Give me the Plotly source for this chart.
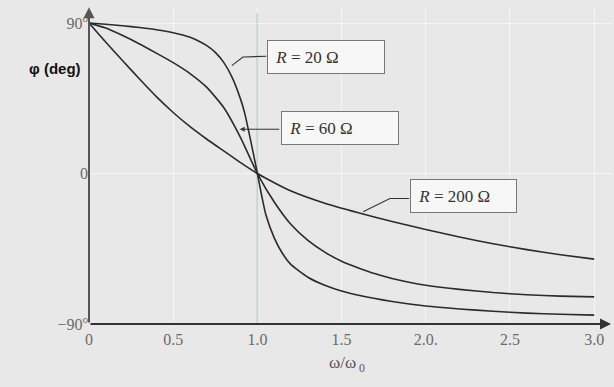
import plotly.graph_objects as go

# ---- data ----
x_r20 = [0, 0.1, 0.2, 0.3, 0.4, 0.5, 0.6, 0.65, 0.7, 0.75, 0.8, 0.85, 0.9, 0.925, 0.95, 0.975, 1.0,
         1.025, 1.05, 1.1, 1.15, 1.2, 1.3, 1.4, 1.5, 1.6, 1.8, 2.0, 2.2, 2.4, 2.6, 2.8, 3.0]
phi_r20 = [90, 89.3, 88.4, 87.3, 86.0, 84.2, 81.5, 79.3, 76.5, 72.5, 66.5, 57.5, 44.5, 36.0, 24.5, 12.5, 0,
           -13.0, -24.5, -38.5, -48.0, -54.5, -62.0, -66.8, -70.2, -72.8, -76.5, -79.2, -81.0, -82.4, -83.5, -84.2, -84.7]

x_r60 = [0, 0.1, 0.2, 0.3, 0.4, 0.5, 0.6, 0.7, 0.8, 0.9, 1.0,
         1.1, 1.2, 1.3, 1.4, 1.5, 1.6, 1.7, 1.8, 1.9, 2.0, 2.2, 2.4, 2.6, 2.8, 3.0]
phi_r60 = [90, 87.0, 82.5, 77.5, 72.0, 66.3, 59.8, 51.5, 39.5, 21.5, 0,
           -17.0, -30.5, -40.0, -47.0, -52.5, -56.5, -60.0, -62.8, -65.0, -66.8, -69.3, -71.2, -72.5, -73.3, -73.8]

x_r200 = [0, 0.1, 0.2, 0.3, 0.4, 0.5, 0.6, 0.7, 0.8, 0.9, 1.0,
          1.1, 1.2, 1.4, 1.6, 1.8, 2.0, 2.2, 2.4, 2.6, 2.8, 3.0]
phi_r200 = [90, 78.5, 67.5, 56.5, 46.0, 36.5, 28.0, 20.5, 13.5, 6.5, 0,
            -5.5, -10.5, -17.8, -23.5, -28.7, -33.5, -38.0, -42.0, -45.5, -48.6, -51.2]

x_ticks = [0, 0.5, 1.0, 1.5, 2.0, 2.5, 3.0]
x_ticktext = ["0", "0.5", "1.0", "1.5", "2.0.", "2.5", "3.0"]
y_ticks = [-90, 0, 90]
y_ticktext = ["\u221290<sup>o</sup>", "0", "90<sup>o</sup>"]

labels = ["<i>R</i> = 20 \u03a9", "<i>R</i> = 60 \u03a9", "<i>R</i> = 200 \u03a9"]

BG = "#e9e8e8"
CURVE = "#2b2b2b"
SERIF = "Liberation Serif, Times New Roman, serif"

fig = go.Figure()
for xs, ys in [(x_r20, phi_r20), (x_r60, phi_r60), (x_r200, phi_r200)]:
    fig.add_trace(go.Scatter(x=xs, y=ys, mode="lines",
                             line=dict(color=CURVE, width=1.6, shape="spline", smoothing=0.5),
                             showlegend=False, hoverinfo="skip"))

# vertical resonance line
fig.add_shape(type="line", x0=1.0, x1=1.0, y0=-90, y1=96, xref="x", yref="y",
              line=dict(color="#7a9cc6", width=1.2), layer="below")

# leader lines
fig.add_shape(type="path", xref="x", yref="y",
              path="M 1.053 70.1 L 0.914 69.7 L 0.848 64.5",
              line=dict(color="#333333", width=1.1))
fig.add_shape(type="path", xref="x", yref="y",
              path="M 1.901 -14.9 L 1.787 -14.9 L 1.628 -22.8",
              line=dict(color="#333333", width=1.1))

anns = []
# axes with arrows
anns.append(dict(x=0, y=99.5, ax=0, ay=-90, xref="x", yref="y", axref="x", ayref="y",
                 text="", showarrow=True, arrowhead=2, arrowsize=1.1, arrowwidth=2,
                 arrowcolor="#555555"))
anns.append(dict(x=3.1, y=-90, ax=0, ay=-90, xref="x", yref="y", axref="x", ayref="y",
                 text="", showarrow=True, arrowhead=2, arrowsize=1.1, arrowwidth=2,
                 arrowcolor="#333333"))
# R=60 arrow
anns.append(dict(x=0.895, y=26.5, ax=1.139, ay=26.5, xref="x", yref="y", axref="x", ayref="y",
                 text="", showarrow=True, arrowhead=2, arrowsize=1, arrowwidth=1,
                 arrowcolor="#333333"))

# label boxes
box_specs = [(labels[0], 1.055, 69.9, 108), (labels[1], 1.139, 27.0, 108), (labels[2], 1.905, -13.6, 97)]
for txt, bx, by, w in box_specs:
    anns.append(dict(x=bx, y=by, xref="x", yref="y", xanchor="left", yanchor="middle",
                     text="&nbsp;" + txt, showarrow=False, align="left", width=w, height=24,
                     bgcolor="#f7f7f7", bordercolor="#777777", borderwidth=1, borderpad=4,
                     font=dict(family=SERIF, size=17, color="#333333")))

# axis titles (paper coordinates so they are not hidden outside the axis range)
anns.append(dict(x=-0.012, y=0.81, xref="paper", yref="paper", xanchor="right", yanchor="middle",
                 text="<b>\u03c6 (deg)</b>", showarrow=False,
                 font=dict(family="Liberation Sans, Arial, sans-serif", size=15, color="#111111")))
anns.append(dict(x=0.494, y=-0.125, xref="paper", yref="paper", xanchor="center", yanchor="middle",
                 text="\u03c9/\u03c9<sub> 0</sub>", showarrow=False,
                 font=dict(family=SERIF, size=17, color="#555555")))

fig.update_layout(
    width=614, height=387,
    margin=dict(l=89, r=3, t=8, b=63),
    paper_bgcolor=BG, plot_bgcolor=BG,
    annotations=anns,
    xaxis=dict(range=[0, 3.1], tickvals=x_ticks, ticktext=x_ticktext,
               showline=False, zeroline=False, ticks="", ticklabelstandoff=4,
               showgrid=True, gridcolor="rgba(255,255,255,0.55)", gridwidth=1,
               tickfont=dict(family=SERIF, size=16, color="#6a6a6a")),
    yaxis=dict(range=[-90, 99], tickvals=y_ticks, ticktext=y_ticktext,
               showline=False, zeroline=False, ticks="",
               showgrid=True, gridcolor="rgba(255,255,255,0.55)", gridwidth=1,
               tickfont=dict(family=SERIF, size=16, color="#6a6a6a")),
)

fig.write_html("out.html", config={"displayModeBar": False},
               post_script="document.body.style.margin='0';document.body.style.background='#e9e8e8';")
